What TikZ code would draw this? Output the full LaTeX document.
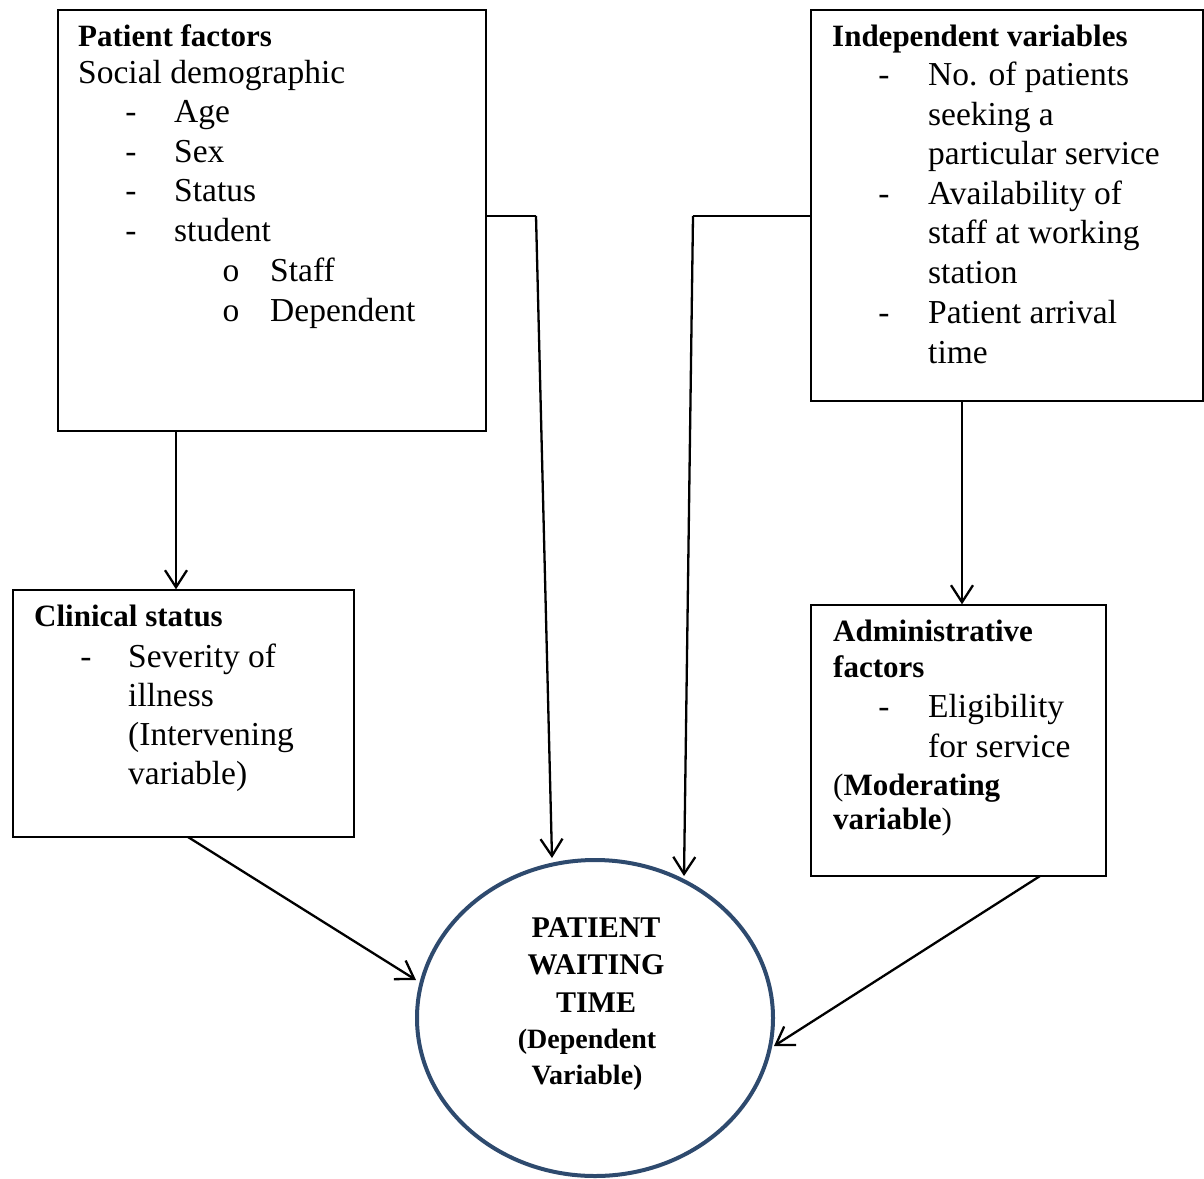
\documentclass[tikz,border=0pt]{standalone}
\usepackage{fontspec}
\setmainfont{Liberation Serif}
\usetikzlibrary{arrows.meta,shapes.geometric}
\definecolor{navy}{HTML}{2E4A6E}
\begin{document}
\begin{tikzpicture}[x=1pt,y=-1pt,
  box/.style={draw, line width=1.4pt, rectangle, inner sep=0pt},
  conn/.style={draw, line width=2.3pt, -{Straight Barb[length=17pt,width=22pt]}},
  plain/.style={draw, line width=2.3pt},
  ln/.style={anchor=base west, inner sep=0pt, font=\fontsize{33.5}{38}\selectfont},
  hd/.style={anchor=base west, inner sep=0pt, font=\fontsize{31}{36}\selectfont\bfseries},
  dsh/.style={anchor=base, inner sep=0pt, font=\fontsize{33.5}{38}\selectfont},
  ctr/.style={anchor=base, inner sep=0pt, font=\fontsize{30}{35}\selectfont\bfseries},
  ctrs/.style={anchor=base, inner sep=0pt, font=\fontsize{28}{32}\selectfont\bfseries},
]
\useasboundingbox (0,0) rectangle (1204,1178);

% boxes
\node[box, minimum width=428pt, minimum height=421pt] (pf) at (272,220.5) {};
\node[box, minimum width=392pt, minimum height=391pt] (iv) at (1007,205.5) {};
\node[box, minimum width=341pt, minimum height=247pt] (cs) at (183.5,713.5) {};
\node[box, minimum width=295pt, minimum height=271pt] (af) at (958.5,740.5) {};
\node[ellipse, draw=navy, line width=4pt, minimum width=356pt, minimum height=316pt, inner sep=0pt] (pw) at (595,1018) {};

% Patient factors text
\node[hd] (pfh) at (78,46) {Patient factors};
\node[ln] (pf0) at (78,83) {Social demographic};
\node[dsh] (pd1) at (131,122) {-};
\node[ln] (pf1) at (174,122) {Age};
\node[dsh] (pd2) at (131,162) {-};
\node[ln] (pf2) at (174,162) {Sex};
\node[dsh] (pd3) at (131,201) {-};
\node[ln] (pf3) at (174,201) {Status};
\node[dsh] (pd4) at (131,241) {-};
\node[ln] (pf4) at (174,241) {student};
\node[dsh] (po1) at (231,281) {o};
\node[ln] (pf5) at (270,281) {Staff};
\node[dsh] (po2) at (231,321) {o};
\node[ln] (pf6) at (270,321) {Dependent};

% Independent variables text
\node[hd] (ivh) at (832,46) {Independent variables};
\node[dsh] (id1) at (884,85) {-};
\node[ln] (iv1) at (928,85) {No. of patients};
\node[ln] (iv2) at (928,125) {seeking a};
\node[ln] (iv3) at (928,164) {particular service};
\node[dsh] (id2) at (884,204) {-};
\node[ln] (iv4) at (928,204) {Availability of};
\node[ln] (iv5) at (928,243) {staff at working};
\node[ln] (iv6) at (928,283) {station};
\node[dsh] (id3) at (884,323) {-};
\node[ln] (iv7) at (928,323) {Patient arrival};
\node[ln] (iv8) at (928,363) {time};

% Clinical status text
\node[hd] (csh) at (34,626) {Clinical status};
\node[dsh] (cd1) at (86,667) {-};
\node[ln] (cs1) at (128,667) {Severity of};
\node[ln] (cs2) at (128,706) {illness};
\node[ln] (cs3) at (128,745) {(Intervening};
\node[ln] (cs4) at (128,784) {variable)};

% Administrative factors text
\node[hd] (afh) at (833,641) {Administrative};
\node[hd] (afh2) at (833,677) {factors};
\node[dsh] (ad1) at (884,717) {-};
\node[ln] (af1) at (928,717) {Eligibility};
\node[ln] (af2) at (928,757) {for service};
\node[hd] (af3) at (833,795) {\mdseries(\bfseries Moderating};
\node[hd] (af4) at (833,829) {variable\mdseries)};

% Circle text
\node[ctr] (c1) at (596,937) {PATIENT};
\node[ctr] (c2) at (596,974) {WAITING};
\node[ctr] (c3) at (596,1012) {TIME};
\node[ctrs] (c4) at (587,1048) {(Dependent};
\node[ctrs] (c5) at (587,1084) {Variable)};

% coordinates
\coordinate (j1) at (536,216);
\coordinate (t1) at (552,858);
\coordinate (j2) at (693,216);
\coordinate (t2) at (684,876);
\coordinate (x1) at (176,0);
\coordinate (x2) at (962,0);
\coordinate (s3) at (188,837);
\coordinate (t3) at (416,980);
\coordinate (s4) at (1040,876);
\coordinate (t4) at (774,1046);

% connectors
\draw[plain] (j1 -| pf.east) -- (j1);
\draw[conn] (j1) -- (t1);
\draw[plain] (j2 -| iv.west) -- (j2);
\draw[conn] (j2) -- (t2);
\draw[conn] (x1 |- pf.south) -- (x1 |- cs.north);
\draw[conn] (x2 |- iv.south) -- (x2 |- af.north);
\draw[conn] (s3) -- (t3);
\draw[conn] (s4) -- (t4);
\end{tikzpicture}
\end{document}
